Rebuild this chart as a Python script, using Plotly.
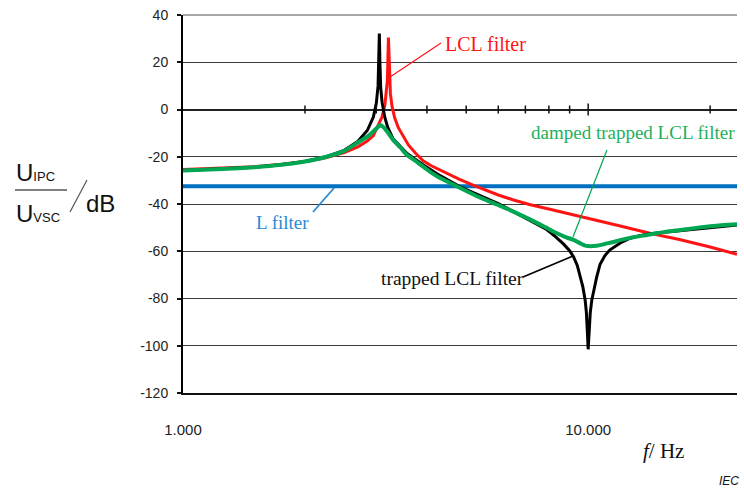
import math
import plotly.graph_objects as go

# ---------------- data (frequency in Hz, magnitude in dB) ----------------
l_freq = [1000, 23300]
l_db = [-32.5, -32.5]

lcl_freq = [1000, 1250, 1500, 1750, 2000, 2250, 2500, 2700, 2850, 2950, 3050, 3100, 3150, 3180, 3195,
            3214, 3230, 3250, 3280, 3330, 3400, 3500, 3600, 3750, 3920, 4100, 4311, 4500, 4800, 5200,
            5550, 6000, 6540, 7200, 7900, 9200, 10000, 10700, 12000, 14200, 16900, 20000, 23300]
lcl_db = [-25.4, -24.9, -24.2, -23.2, -22.0, -20.4, -18.2, -15.8, -13.4, -11.0, -6.0, -3.1, 1.9, 7.3, 12.4,
          30.5, 13.8, 6.7, 1.4, -3.5, -7.7, -11.6, -15.0, -18.5, -21.8, -23.8, -25.6, -27.2, -29.5, -32.0,
          -34.0, -36.2, -38.3, -40.3, -41.9, -44.5, -46.0, -47.2, -49.3, -52.4, -55.1, -58.2, -61.3]

trap_freq = [1000, 1250, 1500, 1750, 2000, 2250, 2500, 2700, 2850, 2950, 3000, 3030, 3045, 3052, 3062,
             3075, 3100, 3150, 3200, 3300, 3567, 3920, 4311, 4830, 6000, 7200, 7900, 8300, 8700, 9000,
             9200, 9400, 9550, 9700, 9830, 9900, 9960, 10000, 10050, 10120, 10210, 10350, 10500, 10700,
             11000, 11300, 12000, 12700, 13400, 14200, 16900, 20400, 23300]
trap_db = [-25.8, -25.2, -24.4, -23.4, -22.0, -20.1, -17.3, -13.5, -8.9, -3.2, 2.6, 10.0, 20.0, 32.2, 20.0,
           9.6, 3.0, -3.5, -7.5, -12.4, -18.5, -23.5, -28.0, -32.7, -39.8, -47.3, -50.8, -53.8, -57.0, -59.8,
           -62.3, -66.0, -70.8, -75.0, -80.6, -86.0, -95.0, -101.5, -95.0, -86.0, -80.6, -75.0, -70.8, -65.5,
           -61.8, -59.5, -56.5, -54.5, -53.4, -52.6, -51.3, -49.6, -48.9]

damp_freq = [1000, 1250, 1500, 1750, 2000, 2250, 2500, 2700, 2850, 2950, 3020, 3065, 3120, 3200, 3300,
             3450, 3550, 3750, 3900, 4100, 4300, 4740, 5300, 5950, 6500, 7200, 7800, 8400, 8800, 9200,
             9600, 9800, 10000, 10300, 10700, 11000, 11400, 12000, 13000, 14000, 15600, 16900, 18500,
             20400, 23300]
damp_db = [-25.8, -25.2, -24.4, -23.4, -22.0, -20.1, -17.5, -14.0, -11.5, -9.3, -7.6, -6.6, -7.4, -9.6, -12.9,
           -16.3, -18.8, -21.8, -24.0, -26.7, -28.9, -32.5, -36.6, -40.2, -43.0, -46.6, -49.6, -52.5, -54.0,
           -55.2, -56.8, -57.5, -57.8, -57.8, -57.4, -56.9, -56.3, -55.3, -54.0, -53.1, -51.7, -51.0, -50.1,
           -49.3, -48.6]

x_tickvals = [1000, 10000]
x_ticktext = ["1.000", "10.000"]
x_minor_ticks = [2000, 3000, 4000, 5000, 6000, 7000, 8000, 9000, 20000]
y_tickvals = [-120, -100, -80, -60, -40, -20, 0, 20, 40]
y_ticktext = ["-120", "-100", "-80", "-60", "-40", "-20", "0", "20", "40"]

X_MIN, X_MAX = 1000, 23300
Y_MIN, Y_MAX = -120, 40

# ---------------- layout geometry ----------------
W, H = 744, 488
ML, MR, MT, MB = 183, 7, 15, 95
PW, PH = W - ML - MR, H - MT - MB

def px(x):  # pixel -> paper x
    return (x - ML) / PW

def py(y):  # pixel -> paper y
    return (H - MB - y) / PH

def fx(f):  # frequency -> paper x (log scale)
    return (math.log10(f) - math.log10(X_MIN)) / (math.log10(X_MAX) - math.log10(X_MIN))

SANS = "Liberation Sans, Arial, sans-serif"
SERIF = "Liberation Serif, Times New Roman, serif"

RED = "#ff1414"
BLUE = "#0070c0"
GREEN = "#00a651"
BLACK = "#000000"

fig = go.Figure()
fig.add_trace(go.Scatter(x=l_freq, y=l_db, mode="lines", line=dict(color=BLUE, width=4), name="L filter"))
fig.add_trace(go.Scatter(x=lcl_freq, y=lcl_db, mode="lines", line=dict(color=RED, width=3), name="LCL filter"))
fig.add_trace(go.Scatter(x=trap_freq, y=trap_db, mode="lines", line=dict(color=BLACK, width=3),
                         name="trapped LCL filter"))
fig.add_trace(go.Scatter(x=damp_freq, y=damp_db, mode="lines",
                         line=dict(color=GREEN, width=4, shape="spline", smoothing=0.5),
                         name="damped trapped LCL filter"))

shapes = []
# ticks across the 0 dB axis line
for f in x_minor_ticks:
    shapes.append(dict(type="line", xref="paper", yref="y", ysizemode="pixel", yanchor=0,
                       x0=fx(f), x1=fx(f), y0=-4, y1=4, line=dict(color="#111", width=1.5)))
shapes.append(dict(type="line", xref="paper", yref="y", ysizemode="pixel", yanchor=0,
                   x0=fx(10000), x1=fx(10000), y0=-6, y1=6, line=dict(color="#111", width=1.5)))
# top border (grey)
shapes.append(dict(type="line", xref="paper", yref="paper", x0=0, x1=1, y0=1, y1=1,
                   line=dict(color="#8c8c8c", width=1.5)))

def leader(x0, y0, x1, y1, color, width=1.2):
    shapes.append(dict(type="line", xref="paper", yref="paper", x0=px(x0), y0=py(y0), x1=px(x1), y1=py(y1),
                       line=dict(color=color, width=width)))

leader(390, 77, 441, 43, RED, 1.2)
leader(313, 212, 334, 188, "#2a8ad4", 1.8)
leader(607, 150, 573, 237, GREEN, 1.2)
leader(523, 277, 573, 256, BLACK, 1.6)
# fraction bar and slash of the y label
shapes.append(dict(type="line", xref="paper", yref="paper", x0=px(15), x1=px(67), y0=py(190), y1=py(190),
                   line=dict(color="#555", width=1.5)))
shapes.append(dict(type="line", xref="paper", yref="paper", x0=px(70), x1=px(87), y0=py(212), y1=py(180),
                   line=dict(color="#555", width=1.2)))

annotations = []
def text(x, y, s, color, size, family, xanchor="left", yanchor="middle"):
    annotations.append(dict(xref="paper", yref="paper", x=px(x), y=py(y), text=s, showarrow=False,
                            xanchor=xanchor, yanchor=yanchor, font=dict(color=color, size=size, family=family)))

text(443, 44, "LCL filter", RED, 20, SERIF)
text(254, 222, "L filter", "#2a8ad4", 19, SERIF)
text(529, 132, "damped trapped LCL filter", "#1fb05a", 19, SERIF)
text(379, 278, "trapped LCL filter", "#111", 19.5, SERIF)
text(14, 172, "U<span style='font-size:13px'>IPC</span>", "#111", 24, SANS)
text(14, 213, "U<span style='font-size:13px'>VSC</span>", "#111", 24, SANS)
text(84, 203, "dB", "#111", 24, SANS)
text(641, 451, "<i>f</i>/ Hz", "#111", 21, SERIF)
text(741, 481, "<i>IEC</i>", "#111", 12, SANS, xanchor="right")

fig.update_layout(
    width=W, height=H,
    margin=dict(l=ML, r=MR, t=MT, b=MB, pad=0),
    paper_bgcolor="white", plot_bgcolor="white",
    showlegend=False,
    shapes=shapes, annotations=annotations,
    xaxis=dict(type="log", range=[math.log10(X_MIN), math.log10(X_MAX)],
               tickvals=x_tickvals, ticktext=x_ticktext, ticks="",
               tickfont=dict(family=SANS, size=15, color="#222"), ticklabelstandoff=22,
               showgrid=False, zeroline=False, showline=True, linecolor="#111", linewidth=1.5),
    yaxis=dict(range=[Y_MIN, Y_MAX], tickvals=y_tickvals, ticktext=y_ticktext,
               ticks="outside", ticklen=4, tickwidth=1.5, tickcolor="#111",
               tickfont=dict(family=SANS, size=14, color="#222"), ticklabelstandoff=6,
               showgrid=True, gridcolor="#3c3c3c", gridwidth=1,
               zeroline=True, zerolinecolor="#222", zerolinewidth=1.5,
               showline=True, linecolor="#000", linewidth=2),
)

fig.write_html("out.html")
